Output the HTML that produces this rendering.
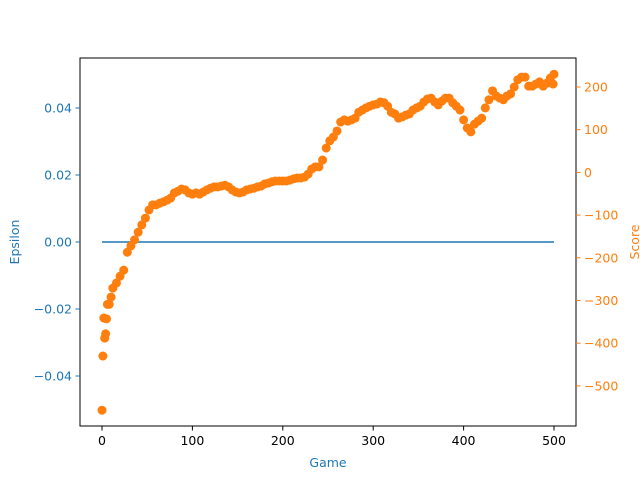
<!DOCTYPE html>
<html><head><meta charset="utf-8"><style>
body{margin:0;background:#fff;}
svg{display:block;font-family:"DejaVu Sans","Liberation Sans",sans-serif;}
</style></head><body>
<svg id="chart" width="640" height="480" viewBox="0 0 640 480" xmlns="http://www.w3.org/2000/svg">
<rect x="0" y="0" width="640" height="480" fill="#fff"/>
<g id="marks"></g>
<g id="axes"></g>
</svg>
<script>
const games = [
0,1,2,3,4,5,6,8,10,12,
16,20,24,28,32,36,40,44,48,52,
56,60,64,68,72,76,80,84,88,92,
96,100,104,108,112,116,120,124,128,132,
136,140,144,148,152,156,160,164,168,172,
176,180,184,188,192,196,200,204,208,212,
216,220,224,228,232,236,240,244,248,252,
256,260,264,268,272,276,280,284,288,292,
296,300,304,308,312,316,320,324,328,332,
336,340,344,348,352,356,360,364,368,372,
376,380,384,388,392,396,400,404,408,412,
416,420,424,428,432,436,440,444,448,452,
456,460,464,468,472,476,480,484,488,492,
496,499,500];
const scores = [
-557,-430,-341,-388,-378,-343,-309,-309,-292,-271,
-259,-243,-229,-187,-172,-158,-140,-123,-107,-88,
-76,-76,-72,-69,-65,-60,-48,-44,-39,-41,
-48,-51,-48,-51,-46,-41,-37,-34,-34,-32,
-30,-34,-41,-46,-48,-46,-41,-39,-37,-34,
-32,-27,-25,-22,-20,-20,-20,-20,-18,-15,
-13,-13,-11,-4,8,13,13,29,57,74,
83,97,118,123,120,123,127,141,146,151,
155,158,160,165,163,155,141,137,127,130,
134,137,146,151,155,165,172,174,165,158,
167,174,174,163,155,146,123,104,95,113,
120,127,151,170,191,179,174,170,179,184,
200,217,223,223,202,202,207,212,202,209,
221,207,230];
const epsGames = [0,500];
const epsilon = [0,0];
const xTicks = [0,100,200,300,400,500];
const yLeftTicks = [-0.04,-0.02,0.00,0.02,0.04];
const yLeftLabels = ["\u22120.04","\u22120.02","0.00","0.02","0.04"];
const yRightTicks = [-500,-400,-300,-200,-100,0,100,200];

const L=80,R=576,T=58,B=426;
const xS=v=>102+v*(554-102)/500;
const yL=v=>242-v*(134/0.04);
const yR=v=>172.4-v*0.427;
const NS="http://www.w3.org/2000/svg";
function mk(tag,attrs,parent){const e=document.createElementNS(NS,tag);for(const k in attrs)e.setAttribute(k,attrs[k]);parent.appendChild(e);return e;}
const marks=document.getElementById('marks'), axes=document.getElementById('axes');

const pl=mk('polyline',{points:epsGames.map((g,i)=>xS(g)+','+yL(epsilon[i])).join(' '),fill:'none',stroke:'#1f77b4','stroke-width':1.5},marks);



const n=Math.min(games.length,scores.length);
for(let i=0;i<n;i++){
  const c=mk('circle',{cx:xS(games[i]),cy:yR(scores[i]),r:4.5,fill:'#ff7f0e'},marks);
  
  
}

const fr=mk('rect',{x:L,y:T,width:R-L,height:B-T,fill:'none',stroke:'#000','stroke-width':1},axes);



xTicks.forEach(v=>{
  const x=xS(v);
  mk('line',{x1:x,y1:B,x2:x,y2:B+4.5,stroke:'#000'},axes);
  const t=mk('text',{x:x,y:B+19,'font-size':12.5,'text-anchor':'middle',fill:'#000'},axes);
  t.textContent=v;
  
  
});
yLeftTicks.forEach((v,i)=>{
  const y=yL(v);
  mk('line',{x1:L-4.5,y1:y,x2:L,y2:y,stroke:'#1f77b4'},axes);
  const t=mk('text',{x:L-8,y:y+4.5,'font-size':12.5,'text-anchor':'end',fill:'#1f77b4'},axes);
  t.textContent=yLeftLabels[i];
  
  
});
yRightTicks.forEach(v=>{
  const y=yR(v);
  mk('line',{x1:R,y1:y,x2:R+4.5,y2:y,stroke:'#ff7f0e'},axes);
  const t=mk('text',{x:R+8,y:y+4.5,'font-size':12.5,'text-anchor':'start',fill:'#ff7f0e'},axes);
  t.textContent=v<0?'\u2212'+(-v):v;
  
  
});
const xt=mk('text',{x:328,y:467,'font-size':12.5,'text-anchor':'middle',fill:'#1f77b4'},axes);
xt.textContent='Game';


const yt=mk('text',{x:19,y:242,'font-size':12.5,'text-anchor':'middle',fill:'#1f77b4',transform:'rotate(-90 19 242)'},axes);
yt.textContent='Epsilon';


const yt2=mk('text',{x:639,y:242,'font-size':12.5,'text-anchor':'middle',fill:'#ff7f0e',transform:'rotate(-90 639 242)'},axes);
yt2.textContent='Score';


</script>
</body></html>
